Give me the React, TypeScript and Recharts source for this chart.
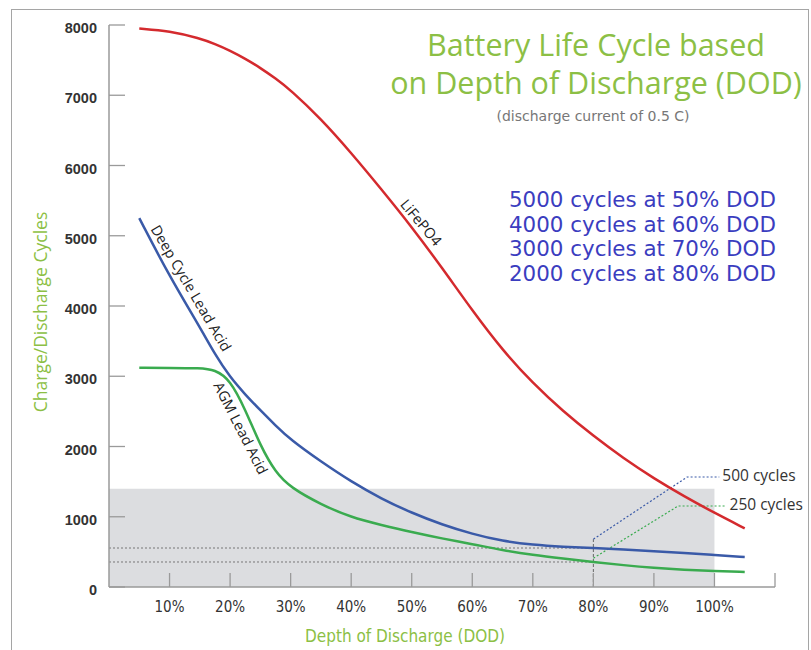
import {
  ComposedChart,
  Line,
  XAxis,
  YAxis,
  ReferenceArea,
  ReferenceLine,
  ReferenceDot
} from 'recharts'

// depth of discharge (%) sampled along the curves
const dod = [5, 10, 15, 17.5, 20, 22.5, 25, 27.5, 30, 35, 40, 45, 50, 55, 60, 65, 70, 75, 80, 85, 90, 95, 100, 105]

// cycles
const lifepo4 = [7950, 7915, 7810, 7730, 7635, 7520, 7390, 7240, 7075, 6665, 6180, 5660, 5125, 4545, 3935, 3370, 2900, 2500, 2150, 1830, 1545, 1290, 1055, 835]
const deepCycle = [5250, 4420, 3700, 3310, 2985, 2740, 2515, 2300, 2095, 1785, 1500, 1255, 1055, 888, 755, 652, 600, 572, 555, 535, 510, 483, 455, 427]
const agm = [3120, 3120, 3115, 3095, 2950, 2530, 2010, 1630, 1415, 1175, 990, 882, 780, 690, 612, 522, 456, 405, 356, 310, 272, 245, 228, 213]

const xTicks = [10, 20, 30, 40, 50, 60, 70, 80, 90, 100, 110]
const yTicks = [0, 1000, 2000, 3000, 4000, 5000, 6000, 7000, 8000]

const shadeTop = 1400
const cutDod = 80
const cutDeep = 555
const cutAgm = 356
const cutMarkTop = 680

const leader500 = [{ d: 80, v: 680 }, { d: 95.5, v: 1566 }, { d: 100.8, v: 1566 }]
const leader250 = [{ d: 80, v: 410 }, { d: 94, v: 1153 }, { d: 102, v: 1153 }]

const ratings = [
  '5000 cycles at 50% DOD',
  '4000 cycles at 60% DOD',
  '3000 cycles at 70% DOD',
  '2000 cycles at 80% DOD'
]

const curveNames = [
  { text: 'LiFePO4', d: 51.6, v: 5190, angle: 50 },
  { text: 'Deep Cycle Lead Acid', d: 13.6, v: 4256, angle: 59.5 },
  { text: 'AGM Lead Acid', d: 21.8, v: 2263, angle: 63 }
]

const rows = dod.map((d, i) => ({ d, red: lifepo4[i], blue: deepCycle[i], green: agm[i] }))

const green = '#8cbf45'
const axisGray = '#9a9a9a'

function YTick(props: any) {
  const { x, y, payload } = props
  return (
    <g>
      <line x1={x} x2={x + 16} y1={y} y2={y} stroke={axisGray} strokeWidth={1.3} />
      <text x={x - 12} y={y + 3} textAnchor="end" dominantBaseline="central"
        fontFamily="Liberation Sans, Arial, sans-serif" fontWeight="bold" fontSize={14.5} fill="#333">
        {payload.value}
      </text>
    </g>
  )
}

function XTick(props: any) {
  const { x, y, payload } = props
  return (
    <g>
      <line x1={x} x2={x} y1={y} y2={y - 14} stroke={axisGray} strokeWidth={1.3} />
      {payload.value <= 100 && (
        <text x={x} y={y + 20} textAnchor="middle" dominantBaseline="central"
          fontFamily="Liberation Sans Narrow, DejaVu Sans Condensed, sans-serif" fontSize={15} fill="#333">
          {payload.value + '%'}
        </text>
      )}
    </g>
  )
}

function rotLabel(text: string, angle: number) {
  return (p: any) => {
    const vb = p.viewBox || {}
    const cx = vb.x + (vb.width || 0) / 2
    const cy = vb.y + (vb.height || 0) / 2
    return (
      <text x={cx} y={cy} transform={`rotate(${angle}, ${cx}, ${cy})`} textAnchor="middle"
        dominantBaseline="central" fontFamily="Open Sans, sans-serif" fontSize={14.5} fill="#222">
        {text}
      </text>
    )
  }
}

function sideLabel(text: string) {
  return (p: any) => {
    const vb = p.viewBox || {}
    return (
      <text x={vb.x + 3} y={vb.y - 2} dominantBaseline="central"
        fontFamily="Open Sans, sans-serif" fontSize={15.5} fill="#333">
        {text}
      </text>
    )
  }
}

export default function App() {
  return (
    <div style={{ position: 'absolute', left: 0, top: 0, width: 811, height: 650, background: '#fff', overflow: 'hidden' }}>
      <div style={{ position: 'absolute', left: 11, top: 9, width: 796, height: 660, border: '1px solid #a5a5a5' }} />

      <ComposedChart width={811} height={650} data={rows}
        margin={{ top: 25, right: 36, bottom: 0, left: 0 }}>

        <XAxis dataKey="d" type="number" domain={[0, 110]} ticks={xTicks} height={63}
          tick={<XTick />} tickLine={false} tickSize={0} tickMargin={0}
          axisLine={{ stroke: axisGray, strokeWidth: 1.5 }} allowDataOverflow />

        <YAxis type="number" domain={[0, 8000]} ticks={yTicks} width={109}
          tick={<YTick />} tickLine={false} tickSize={0} tickMargin={0}
          axisLine={{ stroke: axisGray, strokeWidth: 1.5 }} />

        <ReferenceArea x1={0} x2={100} y1={0} y2={shadeTop} fill="#dcdde0" fillOpacity={1} stroke="none" />

        <ReferenceLine segment={[{ x: 0, y: cutDeep }, { x: cutDod, y: cutDeep }]} stroke="#777" strokeDasharray="2 2" />
        <ReferenceLine segment={[{ x: 0, y: cutAgm }, { x: cutDod, y: cutAgm }]} stroke="#777" strokeDasharray="2 2" />
        <ReferenceLine segment={[{ x: cutDod, y: 0 }, { x: cutDod, y: cutMarkTop }]} stroke="#666" strokeDasharray="3 2" />

        <Line data={leader500} dataKey="v" type="linear" stroke="#3a5aa8" strokeWidth={1.2}
          strokeDasharray="2 2" dot={false} isAnimationActive={false} />
        <Line data={leader250} dataKey="v" type="linear" stroke="#3aab4f" strokeWidth={1.2}
          strokeDasharray="2 2" dot={false} isAnimationActive={false} />

        <Line dataKey="green" type="basis" stroke="#3aab4f" strokeWidth={2.5} dot={false} isAnimationActive={false} />
        <Line dataKey="blue" type="basis" stroke="#3a5aa8" strokeWidth={2.5} dot={false} isAnimationActive={false} />
        <Line dataKey="red" type="basis" stroke="#d42a2e" strokeWidth={2.5} dot={false} isAnimationActive={false} />

        <ReferenceDot x={leader500[2].d} y={leader500[2].v} r={0} stroke="none" fill="none"
          label={{ content: sideLabel('500 cycles') }} />
        <ReferenceDot x={leader250[2].d} y={leader250[2].v} r={0} stroke="none" fill="none"
          label={{ content: sideLabel('250 cycles') }} />

        {curveNames.map(c => (
          <ReferenceDot key={c.text} x={c.d} y={c.v} r={0} stroke="none" fill="none"
            label={{ content: rotLabel(c.text, c.angle) }} />
        ))}
      </ComposedChart>

      <div style={{ position: 'absolute', left: 346, top: 25, width: 500, textAlign: 'center', color: green,
        fontFamily: 'Open Sans, sans-serif', fontSize: 30.5, lineHeight: '38px', whiteSpace: 'nowrap' }}>
        Battery Life Cycle based<br />on Depth of Discharge (DOD)
      </div>
      <div style={{ position: 'absolute', left: 443, top: 108, width: 300, textAlign: 'center', color: '#777',
        fontFamily: 'DejaVu Sans, sans-serif', fontSize: 14, whiteSpace: 'nowrap' }}>
        (discharge current of 0.5 C)
      </div>
      <div style={{ position: 'absolute', left: 509, top: 188, color: '#3b3dbf',
        fontFamily: 'DejaVu Sans, sans-serif', fontSize: 21.4, lineHeight: '24.5px', whiteSpace: 'nowrap' }}>
        {ratings.map(r => <div key={r}>{r}</div>)}
      </div>

      <div style={{ position: 'absolute', left: 40, top: 312, width: 0, height: 0 }}>
        <div style={{ position: 'absolute', left: -150, top: -11, width: 300, textAlign: 'center', color: green,
          transform: 'rotate(-90deg)', fontFamily: 'Open Sans, sans-serif', fontSize: 17.5, lineHeight: '22px', whiteSpace: 'nowrap' }}>
          Charge/Discharge Cycles
        </div>
      </div>
      <div style={{ position: 'absolute', left: 255, top: 624, width: 300, textAlign: 'center', color: green,
        fontFamily: 'Liberation Sans Narrow, DejaVu Sans Condensed, sans-serif', fontSize: 17, lineHeight: '24px', whiteSpace: 'nowrap' }}>
        Depth of Discharge (DOD)
      </div>
    </div>
  )
}
